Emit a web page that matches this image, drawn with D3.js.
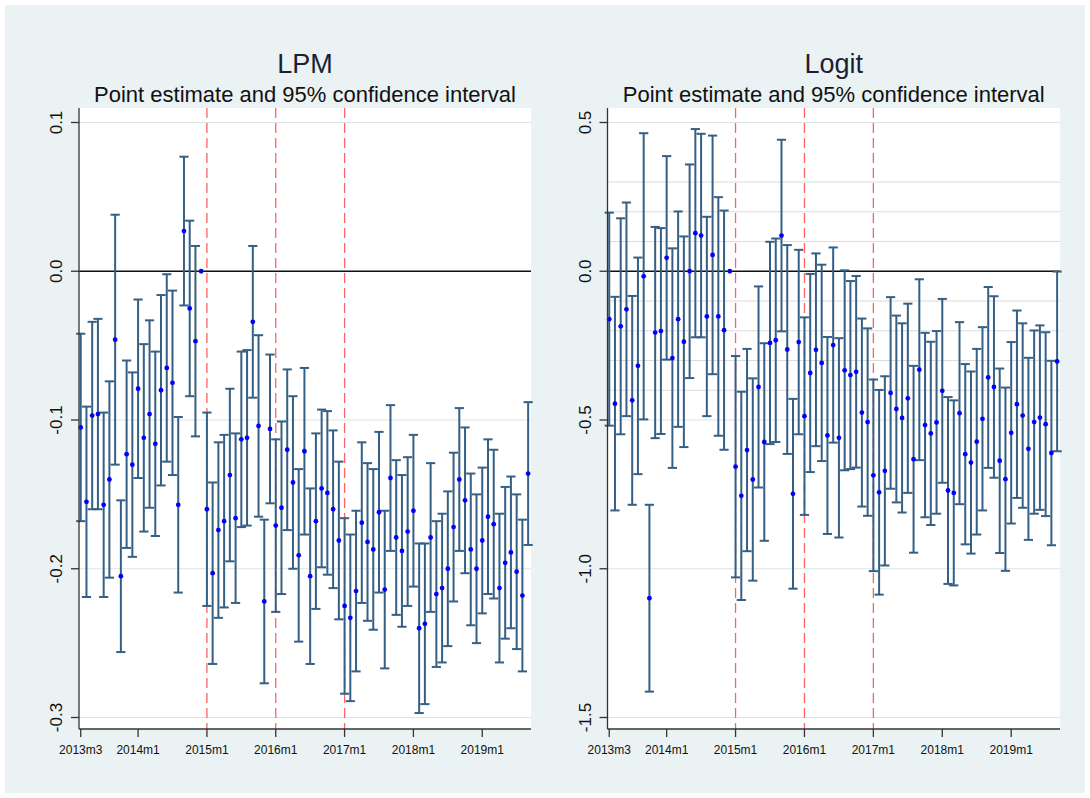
<html>
<head>
<script src="https://d3js.org/d3.v7.min.js"></script>
<style>
    body { margin: 0; background: #fff; }
    text { font-family: "Liberation Sans", Arial, sans-serif; }
</style>
</head>
<body>
<svg id="svgMain" width="1090" height="798"></svg>
<script>

// months run 2013m3 .. 2019m9, index 0 = 2013m3, 2014m12 is the base month
const nMonths = 79;
const tickIdx = [0, 10, 22, 34, 46, 58, 70];
const tickLabels = ["2013m3", "2014m1", "2015m1", "2016m1", "2017m1", "2018m1", "2019m1"];
const breakIdx = [22, 34, 46];

const lpmEst = [-0.105, -0.155, -0.097, -0.096, -0.157, -0.140, -0.046, -0.205, -0.123, -0.130,
    -0.079, -0.112, -0.096, -0.116, -0.080, -0.065, -0.075, -0.157, 0.027, -0.025,
    -0.047, 0, -0.160, -0.203, -0.174, -0.168, -0.137, -0.166, -0.113, -0.112,
    -0.034, -0.104, -0.222, -0.106, -0.171, -0.159, -0.120, -0.142, -0.191, -0.121,
    -0.205, -0.168, -0.146, -0.149, -0.160, -0.181, -0.225, -0.233, -0.215, -0.169,
    -0.182, -0.187, -0.162, -0.214, -0.139, -0.179, -0.188, -0.175, -0.161, -0.240,
    -0.237, -0.179, -0.217, -0.213, -0.200, -0.172, -0.140, -0.154, -0.187, -0.200,
    -0.181, -0.165, -0.170, -0.213, -0.196, -0.189, -0.202, -0.218, -0.136];
const lpmHalf = [0.063, 0.064, 0.063, 0.064, 0.062, 0.066, 0.084, 0.051, 0.063, 0.062,
    0.060, 0.063, 0.063, 0.062, 0.064, 0.063, 0.062, 0.059, 0.050, 0.059,
    0.064, 0, 0.065, 0.061, 0.059, 0.058, 0.058, 0.057, 0.059, 0.059,
    0.051, 0.061, 0.055, 0.050, 0.058, 0.058, 0.054, 0.058, 0.058, 0.056,
    0.059, 0.059, 0.053, 0.055, 0.053, 0.053, 0.059, 0.056, 0.054, 0.054,
    0.053, 0.054, 0.054, 0.053, 0.049, 0.052, 0.051, 0.050, 0.051, 0.057,
    0.054, 0.050, 0.049, 0.050, 0.052, 0.050, 0.048, 0.049, 0.051, 0.050,
    0.049, 0.052, 0.050, 0.050, 0.051, 0.051, 0.052, 0.051, 0.048];

const logitEst = [-0.161, -0.445, -0.185, -0.128, -0.434, -0.318, -0.017, -1.099, -0.206, -0.201,
    0.045, -0.292, -0.161, -0.237, 0.000, 0.128, 0.120, -0.152, 0.055, -0.152,
    -0.198, 0, -0.657, -0.755, -0.601, -0.700, -0.389, -0.574, -0.241, -0.232,
    0.120, -0.263, -0.748, -0.238, -0.487, -0.342, -0.264, -0.308, -0.552, -0.248,
    -0.560, -0.333, -0.349, -0.338, -0.475, -0.507, -0.686, -0.743, -0.671, -0.409,
    -0.463, -0.493, -0.427, -0.632, -0.331, -0.517, -0.545, -0.508, -0.402, -0.737,
    -0.745, -0.477, -0.615, -0.643, -0.573, -0.496, -0.357, -0.389, -0.637, -0.699,
    -0.543, -0.447, -0.485, -0.597, -0.507, -0.492, -0.514, -0.611, -0.303];
const logitHalf = [0.358, 0.359, 0.363, 0.359, 0.351, 0.364, 0.481, 0.314, 0.355, 0.346,
    0.342, 0.369, 0.362, 0.354, 0.359, 0.350, 0.342, 0.335, 0.401, 0.401,
    0.402, 0, 0.372, 0.350, 0.340, 0.340, 0.338, 0.332, 0.340, 0.342,
    0.322, 0.351, 0.319, 0.310, 0.332, 0.333, 0.324, 0.330, 0.331, 0.328,
    0.335, 0.336, 0.316, 0.322, 0.316, 0.315, 0.322, 0.344, 0.318, 0.322,
    0.314, 0.318, 0.318, 0.314, 0.304, 0.310, 0.308, 0.307, 0.309, 0.314,
    0.311, 0.306, 0.303, 0.306, 0.312, 0.308, 0.304, 0.305, 0.310, 0.308,
    0.305, 0.315, 0.310, 0.306, 0.308, 0.310, 0.309, 0.310, 0.302];

const lpmTicks = [0.1, 0, -0.1, -0.2, -0.3];
const lpmTickLabels = ["0.1", "0.0", "-0.1", "-0.2", "-0.3"];
const logitTicks = [0.5, 0, -0.5, -1, -1.5];
const logitTickLabels = ["0.5", "0.0", "-0.5", "-1.0", "-1.5"];
const logitExtraGrid = [0.3, 0.2, 0.1, -0.1, -0.2, -0.3, -0.4];

const svg = d3.select("#svgMain");

svg.append("rect")
    .attr("x", 5).attr("y", 5)
    .attr("width", 1080).attr("height", 788)
    .attr("fill", "#eaf2f3");

const plotTop = 108, plotBottom = 729;

const drawPanel = (p) => {

    let x = d3.scaleLinear().domain([-0.3, 78.5]).range([p.left, p.right]);
    let y = d3.scaleLinear().domain(p.yDomain).range([122.5, 717.5]);

    let g = svg.append("g");

    g.append("rect")
        .attr("x", p.left).attr("y", plotTop)
        .attr("width", p.right - p.left).attr("height", plotBottom - plotTop)
        .attr("fill", "#fff");

    // extra grid lines (logit only)
    g.selectAll(".xgrid")
        .data(p.extraGrid)
        .join("line")
        .attr("x1", p.left).attr("x2", p.right)
        .attr("y1", d => y(d)).attr("y2", d => y(d))
        .attr("stroke", "#dcdcdc").attr("stroke-width", 1.2);

    g.selectAll(".grid")
        .data(p.ticks)
        .join("line")
        .attr("x1", p.left).attr("x2", p.right)
        .attr("y1", d => y(d)).attr("y2", d => y(d))
        .attr("stroke", "#dde4e4").attr("stroke-width", 1.2);

    // zero line
    g.append("line")
        .attr("x1", p.left).attr("x2", p.right)
        .attr("y1", y(0)).attr("y2", y(0))
        .attr("stroke", "#111").attr("stroke-width", 1.6);

    g.selectAll(".brk")
        .data(breakIdx)
        .join("line")
        .attr("x1", d => x(d)).attr("x2", d => x(d))
        .attr("y1", plotTop).attr("y2", plotBottom)
        .attr("stroke", "#ff6262").attr("stroke-width", 1.3)
        .attr("stroke-dasharray", "10,5");

    let rows = d3.range(nMonths).map(i => ({ i: i, est: p.est[i], lo: p.est[i] - p.half[i], hi: p.est[i] + p.half[i] }));
    let bars = rows.filter(d => d.hi > d.lo);

    let cap = 4.6;
    let barColor = "#355f84";

    g.selectAll(".bar")
        .data(bars)
        .join("line")
        .attr("x1", d => x(d.i)).attr("x2", d => x(d.i))
        .attr("y1", d => y(d.hi)).attr("y2", d => y(d.lo))
        .attr("stroke", barColor).attr("stroke-width", 2);

    g.selectAll(".capHi")
        .data(bars)
        .join("line")
        .attr("x1", d => x(d.i) - cap).attr("x2", d => x(d.i) + cap)
        .attr("y1", d => y(d.hi)).attr("y2", d => y(d.hi))
        .attr("stroke", barColor).attr("stroke-width", 2);

    g.selectAll(".capLo")
        .data(bars)
        .join("line")
        .attr("x1", d => x(d.i) - cap).attr("x2", d => x(d.i) + cap)
        .attr("y1", d => y(d.lo)).attr("y2", d => y(d.lo))
        .attr("stroke", barColor).attr("stroke-width", 2);

    g.selectAll(".dot")
        .data(rows)
        .join("circle")
        .attr("cx", d => x(d.i)).attr("cy", d => y(d.est))
        .attr("r", 2.4)
        .attr("fill", "#0000ff");

    // axes
    g.append("line")
        .attr("x1", p.left).attr("x2", p.left)
        .attr("y1", plotTop).attr("y2", plotBottom)
        .attr("stroke", "#333").attr("stroke-width", 1.3);
    g.append("line")
        .attr("x1", p.left).attr("x2", p.right)
        .attr("y1", plotBottom).attr("y2", plotBottom)
        .attr("stroke", "#333").attr("stroke-width", 1.3);

    g.selectAll(".ytick")
        .data(p.ticks)
        .join("line")
        .attr("x1", p.left - 8).attr("x2", p.left)
        .attr("y1", d => y(d)).attr("y2", d => y(d))
        .attr("stroke", "#333").attr("stroke-width", 1.3);

    g.selectAll(".ylab")
        .data(p.ticks)
        .join("text")
        .attr("transform", d => "translate(" + (p.left - 17) + "," + y(d) + ") rotate(-90)")
        .attr("text-anchor", "middle")
        .attr("font-size", 17)
        .attr("fill", "#111")
        .text((d, i) => p.tickLabels[i]);

    g.selectAll(".xtick")
        .data(tickIdx)
        .join("line")
        .attr("x1", d => x(d)).attr("x2", d => x(d))
        .attr("y1", plotBottom).attr("y2", plotBottom + 8)
        .attr("stroke", "#333").attr("stroke-width", 1.3);

    g.selectAll(".xlab")
        .data(tickIdx)
        .join("text")
        .attr("x", d => x(d)).attr("y", 754)
        .attr("text-anchor", "middle")
        .attr("font-size", 12)
        .attr("fill", "#111")
        .text((d, i) => tickLabels[i]);

    let cx = (p.left + p.right) / 2;

    g.append("text")
        .attr("x", cx).attr("y", 73)
        .attr("text-anchor", "middle")
        .attr("font-size", 27)
        .attr("fill", "#1a1f36")
        .text(p.title);

    g.append("text")
        .attr("x", cx).attr("y", 102)
        .attr("text-anchor", "middle")
        .attr("font-size", 22)
        .attr("fill", "#111")
        .text("Point estimate and 95% confidence interval");
};

drawPanel({
    title: "LPM", left: 79, right: 531, yDomain: [0.1, -0.3],
    est: lpmEst, half: lpmHalf, ticks: lpmTicks, tickLabels: lpmTickLabels, extraGrid: []
});

drawPanel({
    title: "Logit", left: 607.5, right: 1060, yDomain: [0.5, -1.5],
    est: logitEst, half: logitHalf, ticks: logitTicks, tickLabels: logitTickLabels, extraGrid: logitExtraGrid
});

</script>
</body>
</html>
